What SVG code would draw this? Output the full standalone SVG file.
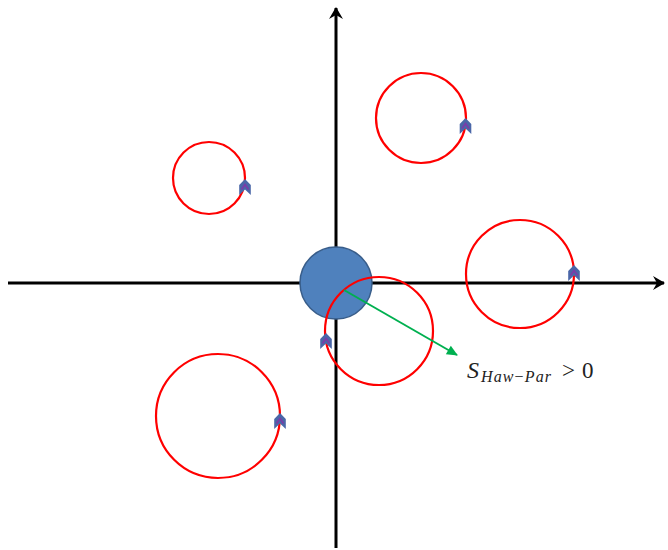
<svg xmlns="http://www.w3.org/2000/svg" width="668" height="550" viewBox="0 0 668 550">
<style>
.axis{stroke:#000;stroke-width:3;fill:none}
.orbit{stroke:#FF0000;stroke-width:2.2;fill:none}
.chev{fill:#4A67A8}
.chevin{fill:none;stroke:#7A3CA8;stroke-width:1.8}
.lbl{font-family:"Liberation Serif","DejaVu Serif",serif;font-style:italic;fill:#222}
.up{font-family:"Liberation Serif","DejaVu Serif",serif;fill:#222}
</style>
<defs>
<marker id="axhead" markerUnits="userSpaceOnUse" markerWidth="16" markerHeight="16" viewBox="-14 -8 16 16" refX="0" refY="0" orient="auto">
<path d="M1,0 L-11,-7 L-7,0 L-11,7 Z" fill="#000"/>
</marker>
<marker id="grhead" markerUnits="userSpaceOnUse" markerWidth="14" markerHeight="14" viewBox="-12 -7 14 14" refX="0" refY="0" orient="auto">
<path d="M1,0 L-10,-5 L-10,5 Z" fill="#00B050"/>
</marker>
<g id="chevron">
<polygon class="chev" points="0,-8 5.8,-2 5.8,8 0,2.5 -5.8,8 -5.8,-2"/>
<polyline class="chevin" points="-3.5,2.5 0,-2.5 3.5,2.5"/>
</g>
</defs>
<g id="connectors">
<line class="axis" x1="8" y1="283" x2="664" y2="283" marker-end="url(#axhead)"/>
<line class="axis" x1="336" y1="548" x2="336" y2="8" marker-end="url(#axhead)"/>
</g>
<g id="center-body">
<circle cx="336" cy="283" r="36" fill="#4F81BD" stroke="#385D8A" stroke-width="1.5"/>
</g>
<g id="orbit1"><circle class="orbit" cx="209" cy="178" r="36"/><use href="#chevron" x="245" y="187"/></g>
<g id="orbit2"><circle class="orbit" cx="421" cy="118" r="45"/><use href="#chevron" x="465.5" y="126"/></g>
<g id="orbit3"><circle class="orbit" cx="520" cy="274" r="54"/><use href="#chevron" x="574" y="273"/></g>
<g id="orbit4"><circle class="orbit" cx="379" cy="331" r="54"/><use href="#chevron" x="326" y="341"/></g>
<g id="orbit5"><circle class="orbit" cx="218" cy="416" r="62"/><use href="#chevron" x="280" y="421"/></g>
<g id="vector">
<line x1="344" y1="290" x2="457" y2="355" stroke="#00B050" stroke-width="2" marker-end="url(#grhead)"/>
</g>
<g id="label">
<text class="lbl" x="467" y="378" font-size="24">S</text>
<text class="lbl" x="481" y="382" font-size="16" textLength="70" lengthAdjust="spacing">Haw<tspan class="up" font-style="normal">−</tspan>Par</text>
<text class="up" x="562" y="378" font-size="23">&gt;</text>
<text class="up" x="582" y="378" font-size="23">0</text>
</g>
</svg>
